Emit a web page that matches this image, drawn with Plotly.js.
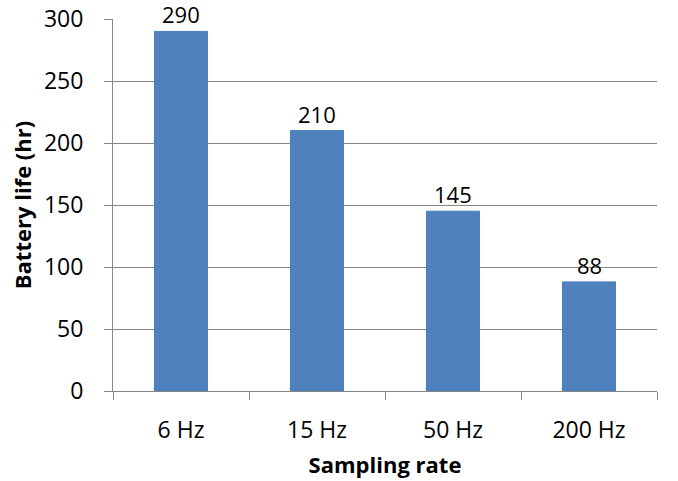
<!DOCTYPE html>
<html>
<head>
<meta charset="utf-8">
<script src="https://cdn.plot.ly/plotly-3.0.1.min.js"></script>
<style>html,body{margin:0;padding:0;background:#fff;}#chart{width:678px;height:481px;}</style>
</head>
<body>
<div id="chart"></div>
<script>
const categories = ["6 Hz", "15 Hz", "50 Hz", "200 Hz"];
const batteryLife = [290, 210, 145, 88];
const yTicks = [0, 50, 100, 150, 200, 250, 300];

const FONT = "Open Sans, Noto Sans, sans-serif";
const trace = {
  type: "bar",
  x: categories,
  y: batteryLife,
  width: 0.39,
  marker: {color: "#4F81BD", line: {color: "#4A7EBB", width: 1}},
  hoverinfo: "skip"
};

const annotations = categories.map((c, i) => ({
  x: c, y: batteryLife[i], xref: "x", yref: "y",
  text: String(batteryLife[i]),
  showarrow: false, yanchor: "bottom", yshift: 0,
  font: {family: FONT, size: 22, color: "#000"}
}));

const layout = {
  width: 678, height: 481,
  margin: {l: 113, r: 21, t: 19, b: 90},
  paper_bgcolor: "#fff", plot_bgcolor: "#fff",
  showlegend: false,
  bargap: 0.61,
  annotations: annotations,
  xaxis: {
    type: "category",
    showgrid: false,
    showline: true, linecolor: "#868686", linewidth: 1,
    ticks: "outside", tickson: "boundaries", ticklen: 8, tickcolor: "#868686",
    ticklabelstandoff: 18,
    tickfont: {family: FONT, size: 23, color: "#000"},
    title: {text: "<b>Sampling rate</b>", font: {family: FONT, size: 22, color: "#000"}, standoff: 14}
  },
  yaxis: {
    range: [0, 300],
    tickmode: "array", tickvals: yTicks, ticktext: yTicks.map(String),
    showgrid: true, gridcolor: "#868686", gridwidth: 1,
    showline: true, linecolor: "#868686", linewidth: 1,
    zeroline: false,
    ticks: "outside", ticklen: 8, tickcolor: "#868686",
    ticklabelstandoff: 16,
    tickfont: {family: FONT, size: 23, color: "#000"},
    title: {text: "<b>Battery life (hr)</b>", font: {family: FONT, size: 22, color: "#000"}, standoff: 6}
  }
};

Plotly.newPlot("chart", [trace], layout, {displayModeBar: false, staticPlot: true});
</script>
</body>
</html>
